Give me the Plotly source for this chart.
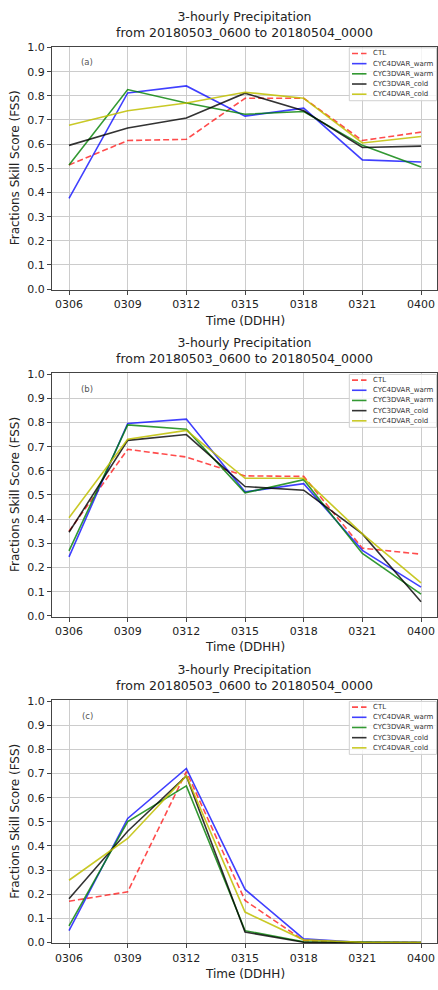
import plotly.graph_objects as go

times = ["0306", "0309", "0312", "0315", "0318", "0321", "0400"]
series_names = ["CTL", "CYC4DVAR_warm", "CYC3DVAR_warm", "CYC3DVAR_cold", "CYC4DVAR_cold"]

# Panel (a)
a_ctl = [0.514, 0.615, 0.620, 0.790, 0.790, 0.615, 0.650]
a_4dw = [0.376, 0.812, 0.841, 0.716, 0.749, 0.535, 0.526]
a_3dw = [0.514, 0.826, 0.770, 0.724, 0.735, 0.595, 0.505]
a_3dc = [0.595, 0.667, 0.708, 0.811, 0.738, 0.586, 0.592]
a_4dc = [0.678, 0.738, 0.770, 0.815, 0.790, 0.605, 0.632]

# Panel (b)
b_ctl = [0.350, 0.689, 0.657, 0.579, 0.577, 0.280, 0.255]
b_4dw = [0.244, 0.796, 0.814, 0.513, 0.547, 0.271, 0.119]
b_3dw = [0.269, 0.790, 0.772, 0.509, 0.563, 0.258, 0.090]
b_3dc = [0.346, 0.726, 0.750, 0.535, 0.520, 0.339, 0.058]
b_4dc = [0.406, 0.731, 0.767, 0.569, 0.569, 0.339, 0.136]

# Panel (c)
c_ctl = [0.171, 0.210, 0.708, 0.174, 0.008, 0.0, 0.0]
c_4dw = [0.049, 0.514, 0.721, 0.220, 0.015, 0.0, 0.0]
c_3dw = [0.069, 0.501, 0.649, 0.049, 0.003, 0.0, 0.0]
c_3dc = [0.181, 0.461, 0.690, 0.043, 0.001, 0.0, 0.0]
c_4dc = [0.258, 0.431, 0.690, 0.126, 0.011, 0.001, 0.0]

panel_labels = ["(a)", "(b)", "(c)"]
title_text = "3-hourly Precipitation<br>from 20180503_0600 to 20180504_0000"
y_ticks = [0.0, 0.1, 0.2, 0.3, 0.4, 0.5, 0.6, 0.7, 0.8, 0.9, 1.0]

panels = [
    [a_ctl, a_4dw, a_3dw, a_3dc, a_4dc],
    [b_ctl, b_4dw, b_3dw, b_3dc, b_4dc],
    [c_ctl, c_4dw, c_3dw, c_3dc, c_4dc],
]

colors = ["rgba(255,0,0,0.7)", "rgba(0,0,255,0.75)", "rgba(0,128,0,0.8)",
          "rgba(0,0,0,0.8)", "rgba(191,191,0,0.85)"]
dashes = ["6px,3px", "solid", "solid", "solid", "solid"]

W, H = 438, 990
left_px, right_px = 52, 437
tops = [42, 372.3, 703]
bottoms = [288.3, 618.7, 949]

font_family = "DejaVu Sans"
fig = go.Figure()

for p in range(3):
    xa = "x" if p == 0 else f"x{p+1}"
    ya = "y" if p == 0 else f"y{p+1}"
    for s in range(5):
        fig.add_trace(go.Scatter(
            x=times, y=panels[p][s], mode="lines", name=series_names[s],
            line=dict(color=colors[s], width=1.6, dash=dashes[s]),
            xaxis=xa, yaxis=ya, showlegend=False,
        ))


def px_x(v):
    return v / W


def px_y(v):
    return 1 - v / H


layout = dict(
    width=W, height=H,
    margin=dict(l=0, r=0, t=0, b=0),
    paper_bgcolor="white", plot_bgcolor="white",
    font=dict(family=font_family, color="#222222"),
    annotations=[], shapes=[], showlegend=False,
)

for p in range(3):
    xkey = "xaxis" if p == 0 else f"xaxis{p+1}"
    ykey = "yaxis" if p == 0 else f"yaxis{p+1}"
    ya = "y" if p == 0 else f"y{p+1}"
    xa = "x" if p == 0 else f"x{p+1}"
    ydom = [px_y(bottoms[p]), px_y(tops[p])]
    layout[xkey] = dict(
        domain=[px_x(left_px), px_x(right_px)], anchor=ya,
        type="category", categoryorder="array", categoryarray=times,
        range=[-0.29, 6.272], showgrid=True, gridcolor="#cccccc", gridwidth=1.2,
        showline=True, linecolor="#444444", linewidth=1, mirror=True,
        ticks="outside", ticklen=4, tickcolor="#444444",
        tickfont=dict(size=11, family=font_family, color="#222222"),
        zeroline=False,
    )
    layout[ykey] = dict(
        domain=ydom, anchor=xa, range=[-0.004, 1.004],
        tickvals=y_ticks, ticktext=[f"{v:.1f}" for v in y_ticks],
        showgrid=True, gridcolor="#cccccc", gridwidth=1.2,
        showline=True, linecolor="#444444", linewidth=1, mirror=True,
        ticks="outside", ticklen=4, tickcolor="#444444",
        tickfont=dict(size=11, family=font_family, color="#222222"),
        zeroline=False,
    )
    # title
    layout["annotations"].append(dict(
        text=title_text, x=px_x((left_px + right_px) / 2), y=px_y(tops[p] - 5),
        xref="paper", yref="paper", xanchor="center", yanchor="bottom",
        showarrow=False, font=dict(size=12.5, family=font_family, color="#222222"),
    ))
    # x title
    layout["annotations"].append(dict(
        text="Time (DDHH)", x=px_x((left_px + right_px) / 2), y=px_y(bottoms[p] + 31),
        xref="paper", yref="paper", xanchor="center", yanchor="middle",
        showarrow=False, font=dict(size=12, family=font_family, color="#222222"),
    ))
    # y title
    layout["annotations"].append(dict(
        text="Fractions Skill Score (FSS)", x=px_x(15), y=px_y((tops[p] + bottoms[p]) / 2),
        xref="paper", yref="paper", xanchor="center", yanchor="middle", textangle=-90,
        showarrow=False, font=dict(size=12, family=font_family, color="#222222"),
    ))
    # panel label
    layout["annotations"].append(dict(
        text=panel_labels[p], x=px_x(87), y=px_y(tops[p] + 16),
        xref="paper", yref="paper", xanchor="center", yanchor="middle",
        showarrow=False, font=dict(size=8.5, family=font_family, color="#555555"),
    ))
    # legend box (drawn to match the compact matplotlib legend)
    box_top = tops[p] + 1.3
    layout["shapes"].append(dict(
        type="rect", xref="paper", yref="paper",
        x0=px_x(349.3), x1=px_x(436.5), y0=px_y(box_top + 53.5), y1=px_y(box_top),
        fillcolor="rgba(255,255,255,0.8)", line=dict(color="#d0d0d0", width=1),
        layer="above",
    ))
    for s in range(5):
        yc = tops[p] + 7 + s * 10.3
        layout["shapes"].append(dict(
            type="line", xref="paper", yref="paper",
            x0=px_x(352), x1=px_x(366.5), y0=px_y(yc), y1=px_y(yc),
            line=dict(color=colors[s], width=1.6, dash=dashes[s]),
            layer="above",
        ))
        layout["annotations"].append(dict(
            text=series_names[s], x=px_x(371), y=px_y(yc),
            xref="paper", yref="paper", xanchor="left", yanchor="middle",
            showarrow=False, font=dict(size=7, family=font_family, color="#333333"),
        ))

fig.update_layout(**layout)
fig.write_html("out.html", config={"displayModeBar": False},
               post_script="document.body.style.margin='0';")
